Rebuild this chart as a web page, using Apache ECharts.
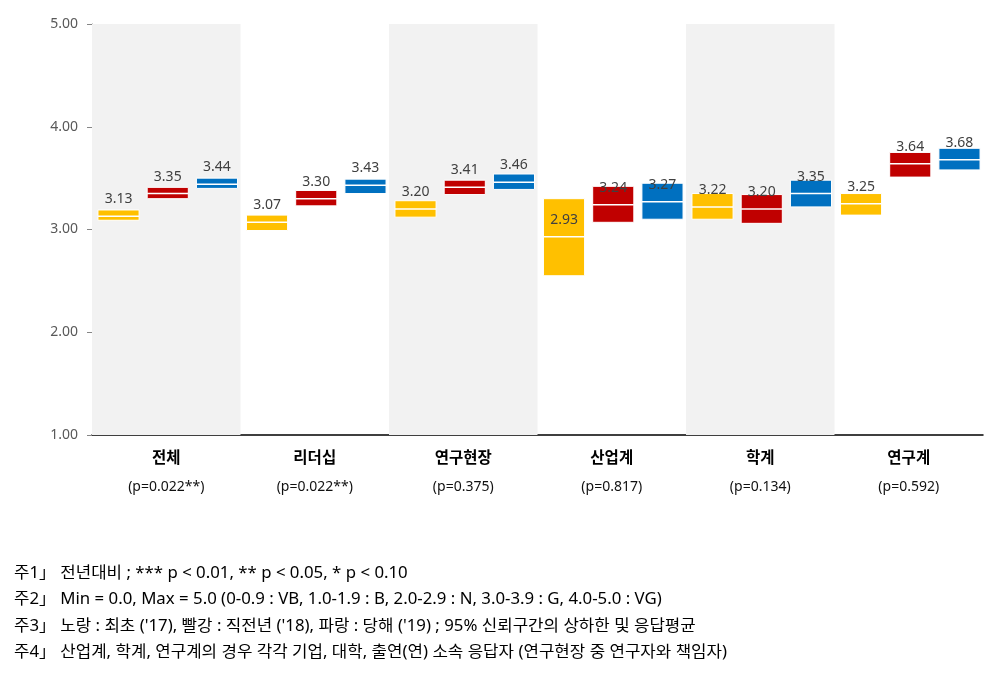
<!DOCTYPE html>
<html>
<head>
<meta charset="utf-8">
<script src="https://cdn.jsdelivr.net/npm/echarts@6/dist/echarts.min.js"></script>
<style>
html,body{margin:0;padding:0;background:#fff;}
#chart{width:993px;height:686px;}
</style>
</head>
<body>
<div id="chart"></div>
<script>
// ---- data ----
const categories = ['전체', '리더십', '연구현장', '산업계', '학계', '연구계'];
const pValues = ['(p=0.022**)', '(p=0.022**)', '(p=0.375)', '(p=0.817)', '(p=0.134)', '(p=0.592)'];
const yearNames = ["'17", "'18", "'19"];
// means
const mean17 = [3.13, 3.07, 3.20, 2.93, 3.22, 3.25];
const mean18 = [3.35, 3.30, 3.41, 3.24, 3.20, 3.64];
const mean19 = [3.44, 3.43, 3.46, 3.27, 3.35, 3.68];
// 95% CI lower bounds
const low17 = [3.09, 2.99, 3.12, 2.55, 3.10, 3.14];
const low18 = [3.30, 3.23, 3.34, 3.07, 3.06, 3.51];
const low19 = [3.40, 3.35, 3.39, 3.10, 3.22, 3.58];
// 95% CI upper bounds
const high17 = [3.19, 3.14, 3.28, 3.30, 3.35, 3.35];
const high18 = [3.41, 3.38, 3.48, 3.42, 3.34, 3.75];
const high19 = [3.50, 3.49, 3.54, 3.45, 3.48, 3.79];
const shaded = [true, false, true, false, true, false];
const yMin = 1, yMax = 5, yInterval = 1;
const notes = [
  '주1」 전년대비 ; *** p < 0.01, ** p < 0.05, * p < 0.10',
  '주2」 Min = 0.0, Max = 5.0 (0-0.9 : VB, 1.0-1.9 : B, 2.0-2.9 : N, 3.0-3.9 : G, 4.0-5.0 : VG)',
  "주3」 노랑 : 최초 ('17), 빨강 : 직전년 ('18), 파랑 : 당해 ('19) ; 95% 신뢰구간의 상하한 및 응답평균",
  '주4」 산업계, 학계, 연구계의 경우 각각 기업, 대학, 출연(연) 소속 응답자 (연구현장 중 연구자와 책임자)'
];

// ---- chart ----
const colors = ['#FFC000', '#C00000', '#0070C0'];
const lows = [low17, low18, low19];
const highs = [high17, high18, high19];
const means = [mean17, mean18, mean19];
const FONT = '"Noto Sans CJK KR", "Noto Sans", sans-serif';
const LFONT = '"Noto Sans", "Noto Sans CJK KR", sans-serif';

function makeSeries(s) {
  const data = categories.map((c, i) => [i, lows[s][i], highs[s][i], means[s][i]]);
  return {
    type: 'custom',
    name: yearNames[s],
    data: data,
    z: 3,
    renderItem: function (params, api) {
      const ci = api.value(0), lo = api.value(1), hi = api.value(2), m = api.value(3);
      const bandW = api.size([1, 0])[0];
      const slot = bandW * 0.3315;
      const barW = bandW * 0.277;
      const pm = api.coord([ci, m]);
      const cx = pm[0] + (s - 1) * slot + 1.5;
      const pt = api.coord([ci, hi]);
      const pb = api.coord([ci, lo]);
      return {
        type: 'group',
        children: [
          { type: 'rect', shape: { x: cx - barW / 2, y: pt[1], width: barW, height: pb[1] - pt[1] },
            style: { fill: colors[s], stroke: '#ffffff', lineWidth: 1 } },
          { type: 'line', shape: { x1: cx - barW / 2, y1: pm[1], x2: cx + barW / 2, y2: pm[1] },
            style: { stroke: '#ffffff', lineWidth: 1.5 } },
          { type: 'text', x: cx, y: pm[1] - 17, z2: 10,
            style: { text: m.toFixed(2), fill: '#404040', font: '14px ' + LFONT, align: 'center', verticalAlign: 'middle' } }
        ]
      };
    }
  };
}

const noteGraphics = notes.map((t, i) => ({
  type: 'text',
  left: 14,
  top: 565 + i * 26.5,
  scaleX: 1.05,
  style: { text: t, fill: '#000', font: '16px "Noto Sans", "Noto Sans CJK KR", sans-serif' }
}));

const chart = echarts.init(document.getElementById('chart'), null, { renderer: 'canvas' });
chart.setOption({
  animation: false,
  backgroundColor: '#ffffff',
  grid: { left: 92, right: 10, top: 24, bottom: 251, containLabel: false },
  xAxis: {
    type: 'category',
    data: categories,
    boundaryGap: true,
    axisLine: { show: true, lineStyle: { color: '#000', width: 1.5 } },
    axisTick: { show: false },
    axisLabel: {
      margin: 7,
      interval: 0,
      formatter: function (v, i) { return '{n|' + v + '}\n{p|' + pValues[i] + '}'; },
      rich: {
        n: { fontFamily: FONT, fontSize: 15.5, fontWeight: 'bold', color: '#000', lineHeight: 30 },
        p: { fontFamily: LFONT, fontSize: 14, color: '#111', lineHeight: 30 }
      }
    },
    splitLine: { show: false }
  },
  yAxis: {
    type: 'value',
    min: yMin, max: yMax, interval: yInterval,
    axisLine: { show: true, lineStyle: { color: '#868686', width: 1 } },
    axisTick: { show: true, inside: false, length: 5, lineStyle: { color: '#868686' } },
    axisLabel: { margin: 14, color: '#595959', fontFamily: LFONT, fontSize: 14, formatter: v => v.toFixed(2) },
    splitLine: { show: false }
  },
  series: [
    {
      type: 'bar',
      data: shaded.map(b => b ? yMax : '-'),
      barWidth: '100%',
      itemStyle: { color: '#F2F2F2' },
      silent: true,
      z: 1
    },
    makeSeries(0), makeSeries(1), makeSeries(2)
  ],
  graphic: noteGraphics
});
</script>
</body>
</html>
